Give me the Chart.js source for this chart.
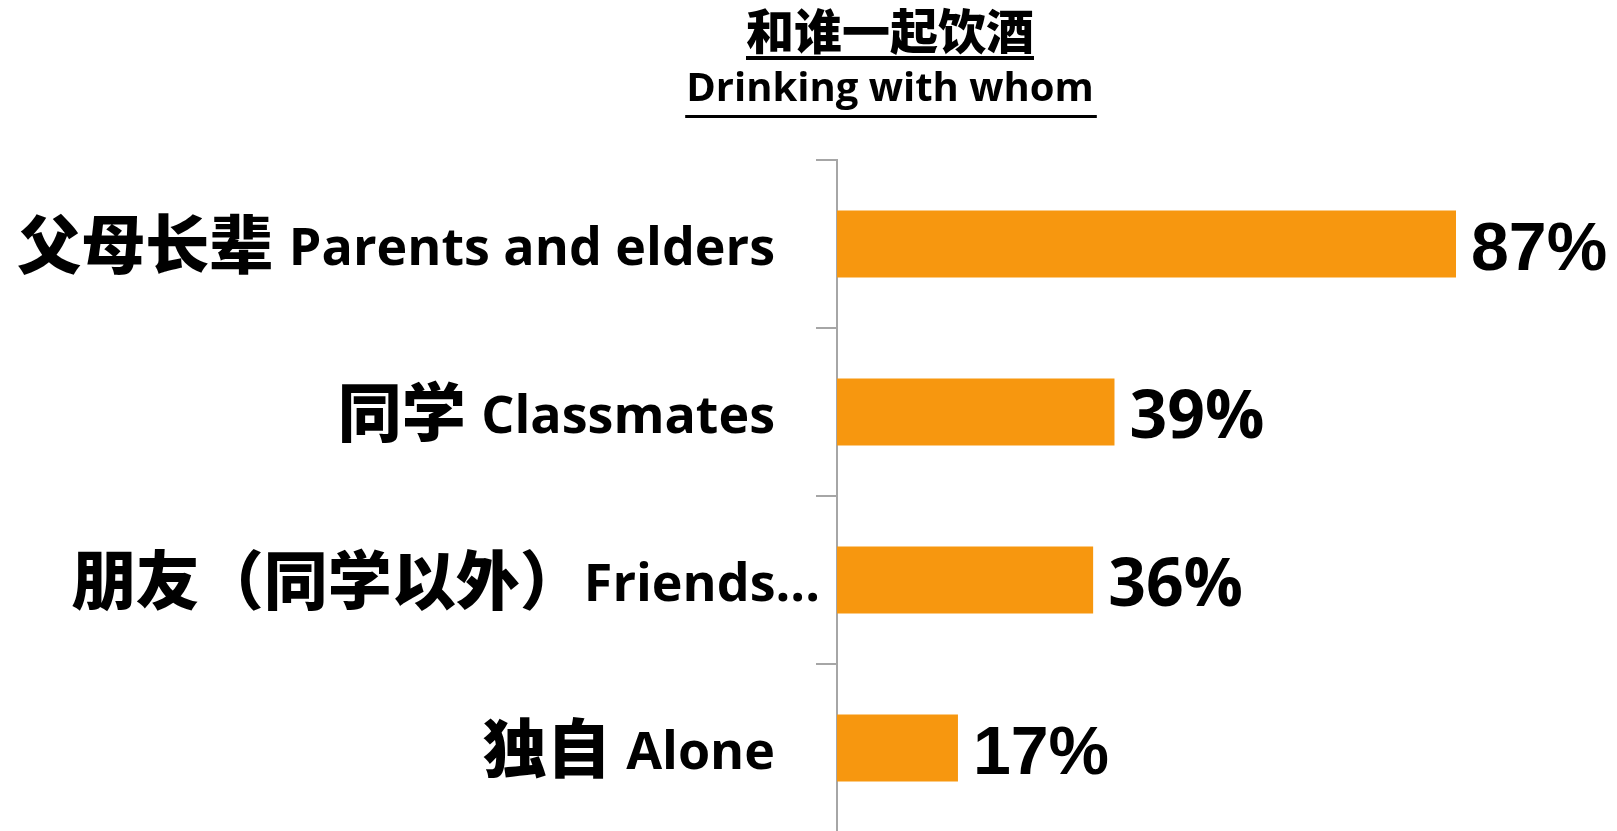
<!DOCTYPE html>
<html>
<head>
<meta charset="utf-8">
<script src="https://cdn.jsdelivr.net/npm/chart.js@4/dist/chart.umd.min.js"></script>
<style>
  html, body { margin: 0; padding: 0; overflow: hidden; background: #ffffff; }
  canvas { display: block; }
</style>
</head>
<body>
<canvas id="c" width="1617" height="840"></canvas>
<script>
// ---- data ----
const titleCn = '和谁一起饮酒';
const titleEn = 'Drinking with whom';
const catCn = ['父母长辈', '同学', '朋友（同学以外）', '独自'];
const catEn = ['Parents and elders', 'Classmates', 'Friends...', 'Alone'];
const values = [87, 39, 36, 17];
const valueLabels = ['87%', '39%', '36%', '17%'];

// ---- styles ----
const BAR_COLOR = '#F7970F';
const AXIS_COLOR = '#a6a6a6';
const CJK = '"Noto Sans CJK SC", "Noto Sans CJK JP", sans-serif';
const LATIN = '"Open Sans", "Noto Sans", sans-serif';
const ARIAL = '"Liberation Sans", Arial, sans-serif';

const labelRight = [775, 775, 820, 775];
const valueFonts = ['bold 68px ' + ARIAL, 'bold 66px ' + LATIN, 'bold 66px ' + LATIN, 'bold 68px ' + ARIAL];

const customText = {
  id: 'customText',
  afterDraw(chart) {
    const ctx = chart.ctx;
    const y = chart.scales.y;
    const x = chart.scales.x;
    ctx.save();
    ctx.fillStyle = '#000';

    // title
    const cx = 890;
    ctx.font = '900 48px ' + CJK;
    ctx.textAlign = 'center';
    ctx.textBaseline = 'middle';
    ctx.fillText(titleCn, cx, 31);
    let w = ctx.measureText(titleCn).width;
    ctx.fillRect(cx - w / 2, 56, w, 4);

    ctx.font = 'bold 40px ' + LATIN;
    ctx.textBaseline = 'alphabetic';
    ctx.fillText(titleEn, cx, 101);
    w = ctx.measureText(titleEn).width;
    ctx.fillRect(cx - w / 2 - 1, 115, w + 4, 3);

    // category labels
    for (let i = 0; i < catCn.length; i++) {
      const py = y.getPixelForValue(i);
      const right = labelRight[i];
      ctx.textAlign = 'right';
      ctx.font = 'bold 52px ' + LATIN;
      ctx.textBaseline = 'alphabetic';
      ctx.fillText(catEn[i], right, py + 21);
      const ew = ctx.measureText(catEn[i]).width;
      const gap = /）$/.test(catCn[i]) ? 0 : ctx.measureText(' ').width + 2;
      ctx.font = '900 64px ' + CJK;
      ctx.textBaseline = 'middle';
      ctx.fillText(catCn[i], right - ew - gap, py);
    }

    // value labels
    for (let i = 0; i < values.length; i++) {
      const py = y.getPixelForValue(i);
      const px = x.getPixelForValue(values[i]);
      ctx.font = valueFonts[i];
      ctx.textAlign = 'left';
      ctx.textBaseline = 'alphabetic';
      ctx.fillText(valueLabels[i], px + 15, py + 26);
    }
    ctx.restore();
  }
};

new Chart(document.getElementById('c'), {
  type: 'bar',
  data: {
    labels: catCn.map((c, i) => c + ' ' + catEn[i]),
    datasets: [{
      data: values,
      backgroundColor: BAR_COLOR,
      borderWidth: 0,
      barPercentage: 0.4,
      categoryPercentage: 1.0
    }]
  },
  options: {
    indexAxis: 'y',
    responsive: false,
    animation: false,
    layout: { padding: { left: 0, right: 68.5, top: 160, bottom: 8 } },
    plugins: {
      legend: { display: false },
      title: { display: false },
      tooltip: { enabled: false }
    },
    scales: {
      x: { display: false, min: 0, max: 100 },
      y: {
        afterFit(scale) { scale.width = 837; },
        ticks: { display: false },
        grid: {
          display: true,
          drawOnChartArea: false,
          drawTicks: true,
          tickLength: 21,
          color: AXIS_COLOR,
          lineWidth: 2,
          offset: true
        },
        border: { display: true, color: AXIS_COLOR, width: 2 }
      }
    }
  },
  plugins: [customText]
});
</script>
</body>
</html>
